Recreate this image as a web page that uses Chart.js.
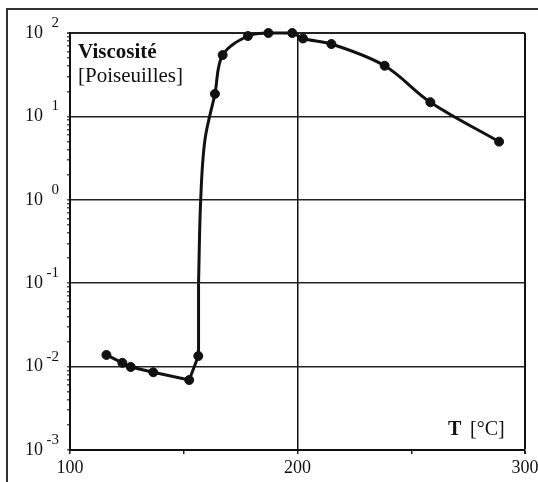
<!DOCTYPE html>
<html>
<head>
<meta charset="utf-8">
<script src="https://cdn.jsdelivr.net/npm/chart.js@4.4.1/dist/chart.umd.min.js"></script>
<style>
    html, body { margin: 0; padding: 0; background: #fff; }
</style>
</head>
<body>
<canvas id="viscChart" width="538" height="482"></canvas>
<script>
// measured points (markers)
const tempMesures = [116, 123, 126.7, 136.6, 152.4, 156.4, 163.7, 167.1, 178.2, 187.2, 197.7, 202.4, 214.9, 238.3, 258.4, 288.6];
const viscMesures = [0.0138, 0.0111, 0.0099, 0.00855, 0.0069, 0.0134, 18.6, 54.4, 92, 100, 100, 86, 73.8, 40.5, 14.8, 4.98];

// points: straight low part, smooth high part
const tempBas = [116, 123, 126.7, 136.6, 152.4, 156.4, 156.5];
const viscBas = [0.0138, 0.0111, 0.0099, 0.00855, 0.0069, 0.0134, 0.1];
const tempHaut = [156.5, 157.45, 159.3, 163.7, 167.1, 178.2, 187.2, 197.7, 202.4, 214.9, 238.3, 258.4, 288.6];
const viscHaut = [0.1, 1, 5.2, 18.6, 54.4, 92, 100, 100, 86, 73.8, 40.5, 14.8, 4.98];

// axes
const xTicks = [100, 150, 200, 250, 300];
const xLabels = ['100', '', '200', '', '300'];
const decades = [-3, -2, -1, 0, 1, 2];
const expLabels = ['-3', '-2', '-1', '0', '1', '2'];

const serif = '"Liberation Serif", "Times New Roman", serif';

const isDecade = (v) => Math.abs(Math.log10(v) - Math.round(Math.log10(v))) < 1e-9;
const toPoints = (xs, ys) => xs.map((t, i) => ({ x: t, y: ys[i] }));

// tick labels (10 + exponent), outer frame and the two captions
const extras = {
    id: 'extras',
    afterDraw(chart) {
        const ctx = chart.ctx;
        const x = chart.scales.x;
        const y = chart.scales.y;
        ctx.save();
        ctx.fillStyle = '#111';
        ctx.textBaseline = 'middle';
        ctx.textAlign = 'right';
        decades.forEach((e, i) => {
            const py = y.getPixelForValue(Math.pow(10, e));
            ctx.font = '18px ' + serif;
            ctx.fillText('10', 43, py);
            ctx.font = '15px ' + serif;
            ctx.fillText(expLabels[i], 59, py - 10);
        });

        ctx.textAlign = 'center';
        ctx.font = '18px ' + serif;
        xTicks.forEach((v, i) => {
            if (xLabels[i]) ctx.fillText(xLabels[i], x.getPixelForValue(v), 468);
        });

        ctx.textAlign = 'left';
        ctx.font = 'bold 21px ' + serif;
        ctx.fillText('Viscosité', 78, 53);
        ctx.font = '21px ' + serif;
        ctx.fillText('[Poiseuilles]', 78, 76);

        ctx.font = 'bold 20px ' + serif;
        ctx.fillText('T', 448, 430);
        ctx.font = '20px ' + serif;
        ctx.fillText('[°C]', 470, 430);

        ctx.strokeStyle = '#333';
        ctx.lineWidth = 2;
        ctx.beginPath();
        ctx.moveTo(7, 482);
        ctx.lineTo(7, 9);
        ctx.lineTo(538, 9);
        ctx.stroke();
        ctx.restore();
    }
};

const ctx = document.getElementById('viscChart').getContext('2d');
new Chart(ctx, {
    type: 'line',
    data: {
        datasets: [
            {
                label: 'bas',
                data: toPoints(tempBas, viscBas),
                borderColor: '#111',
                borderWidth: 3,
                pointRadius: 0,
                tension: 0,
                fill: false,
                clip: false
            },
            {
                label: 'haut',
                data: toPoints(tempHaut, viscHaut),
                borderColor: '#111',
                borderWidth: 3,
                pointRadius: 0,
                tension: 0.35,
                fill: false,
                clip: false
            },
            {
                label: 'mesures',
                data: toPoints(tempMesures, viscMesures),
                showLine: false,
                pointRadius: 4.5,
                pointBackgroundColor: '#111',
                pointBorderColor: '#111',
                clip: false
            }
        ]
    },
    options: {
        responsive: false,
        animation: false,
        layout: { padding: { left: 0, top: 33, right: 13, bottom: 0 } },
        plugins: {
            legend: { display: false },
            tooltip: { enabled: false }
        },
        scales: {
            x: {
                type: 'linear',
                min: 100,
                max: 300,
                afterBuildTicks: (scale) => { scale.ticks = xTicks.map(v => ({ value: v })); },
                afterFit: (scale) => { scale.height = 32; },
                ticks: { display: false },
                grid: {
                    color: (c) => (c.tick && (c.tick.value === 200 || c.tick.value === 300)) ? '#111' : 'rgba(0,0,0,0)',
                    lineWidth: (c) => (c.tick && c.tick.value === 300) ? 2 : 1.5,
                    tickColor: '#222',
                    tickLength: 4
                },
                border: { display: true, color: '#111', width: 2 }
            },
            y: {
                type: 'logarithmic',
                min: 0.001,
                max: 100,
                afterBuildTicks: (scale) => {
                    const vals = [];
                    for (let e = -3; e <= 1; e++) {
                        for (let m = 1; m <= 9; m++) vals.push(m * Math.pow(10, e));
                    }
                    vals.push(100);
                    scale.ticks = vals.map(v => ({ value: v }));
                },
                afterFit: (scale) => { scale.width = 70; },
                ticks: { display: false },
                grid: {
                    color: (c) => (c.tick && isDecade(c.tick.value)) ? '#222' : 'rgba(0,0,0,0)',
                    lineWidth: (c) => (c.tick && c.tick.value === 100) ? 2 : 1.5,
                    tickColor: '#555',
                    tickLength: 3
                },
                border: { display: true, color: '#111', width: 2 }
            }
        }
    },
    plugins: [extras]
});
</script>
</body>
</html>
